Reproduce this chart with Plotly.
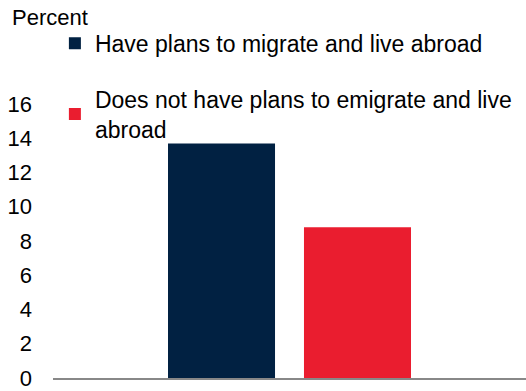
import plotly.graph_objects as go

# Share of respondents (percent) by emigration plans
series_names = [
    "Have plans to migrate and live abroad",
    "Does not have plans to emigrate and live<br>abroad",
]
series_values = [13.7, 8.8]
series_colors = ["#012142", "#EA1D2F"]
category = [""]
y_ticks = [0, 2, 4, 6, 8, 10, 12, 14, 16]

fig = go.Figure()
for i, (name, val, col) in enumerate(zip(series_names, series_values, series_colors)):
    fig.add_trace(go.Bar(
        x=category, y=[val], name=name, marker_color=col,
        marker_line_width=0, legendgroup=f"g{i}",
    ))

fig.update_layout(
    width=526, height=391,
    margin=dict(l=53, r=0, t=104, b=11),
    paper_bgcolor="white", plot_bgcolor="white",
    font=dict(family="Liberation Sans, Arial, sans-serif", size=22, color="#000000"),
    barmode="group", bargap=0.425, bargroupgap=0.213,
    showlegend=True,
    legend=dict(
        x=0.004, xanchor="left", y=1.30, yanchor="top",
        orientation="v", traceorder="grouped", tracegroupgap=23,
        font=dict(size=23, color="#000000"),
        bgcolor="rgba(0,0,0,0)", borderwidth=0,
    ),
    xaxis=dict(
        showticklabels=False, showgrid=False, zeroline=False,
        showline=True, linecolor="#888888", linewidth=2, ticks="",
    ),
    yaxis=dict(
        range=[0, 16], tickvals=y_ticks, showgrid=False, zeroline=False,
        showline=False, ticks="", ticklabelstandoff=20,
        ticklabeloverflow="allow",
        tickfont=dict(size=22, color="#000000"),
    ),
    annotations=[dict(
        text="Percent", xref="paper", yref="paper", x=-0.091, y=1.315,
        xanchor="left", yanchor="middle", showarrow=False,
        font=dict(size=22, color="#000000"),
    )],
)

fig.write_html("out.html")
